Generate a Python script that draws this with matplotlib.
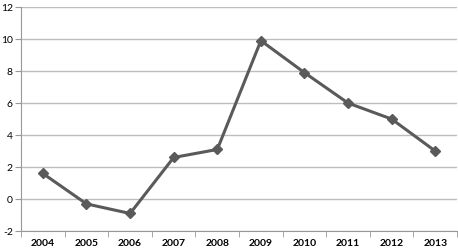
import numpy as np
import matplotlib.pyplot as plt

years = ["2004", "2005", "2006", "2007", "2008", "2009", "2010", "2011", "2012", "2013"]
values = [1.6, -0.3, -0.9, 2.6, 3.1, 9.9, 7.9, 6.0, 5.0, 3.0]
yticks = [-2, 0, 2, 4, 6, 8, 10, 12]

fig = plt.figure(figsize=(4.58, 2.52), dpi=100)
ax = fig.add_axes([0.046, 0.083, 0.952, 0.889])

x = np.arange(len(years))
ax.plot(x, values, color="#5a5a5a", lw=2.2, marker="D", ms=5.5,
        markerfacecolor="#5a5a5a", markeredgecolor="#5a5a5a", zorder=3)

ax.set_xlim(-0.5, len(years) - 0.5)
ax.set_ylim(-2, 12)
ax.set_yticks(yticks)
ax.set_yticklabels([str(v) for v in yticks], fontsize=7.5, family="Lato")
ax.yaxis.grid(True, color="#bdbdbd", lw=1)
ax.set_axisbelow(True)

ax.set_xticks(x)
ax.set_xticklabels(years, fontsize=7.5, fontweight="bold", family="Lato")
ax.set_xticks(np.arange(-0.5, len(years)), minor=True)
ax.tick_params(axis="x", which="major", length=0, pad=6)
ax.tick_params(axis="x", which="minor", length=4, color="#999999")
ax.tick_params(axis="y", length=4, color="#999999", pad=2)

for s in ["top", "right"]:
    ax.spines[s].set_visible(False)
ax.spines["left"].set_color("#999999")
ax.spines["bottom"].set_color("#999999")

fig.savefig("out.png", dpi=100)
